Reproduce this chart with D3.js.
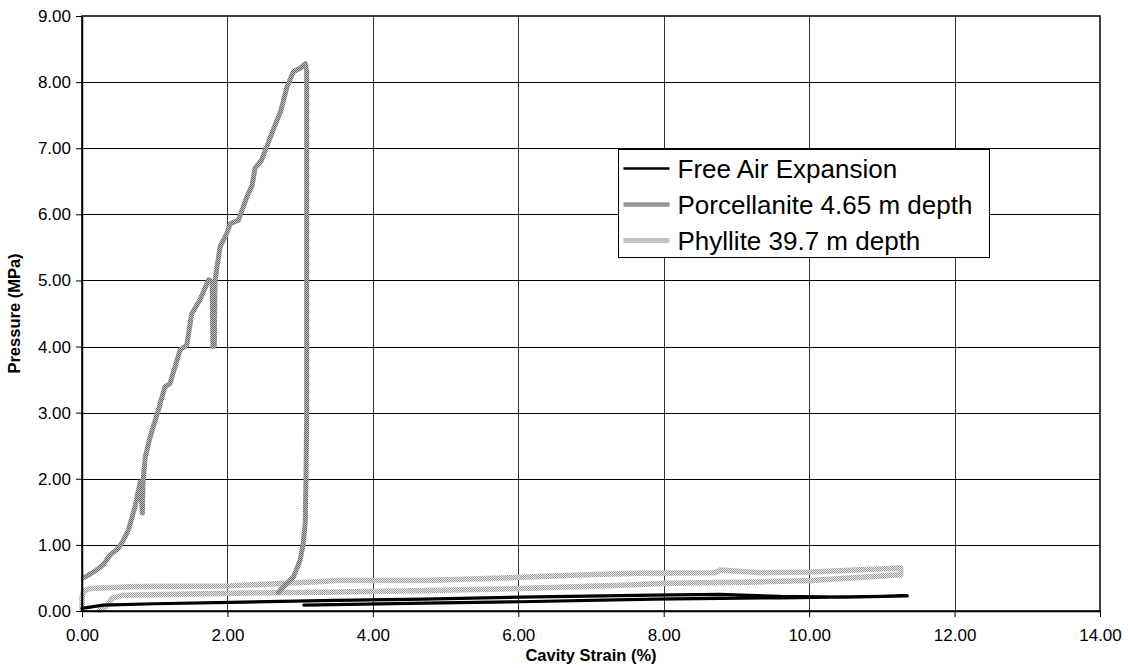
<!DOCTYPE html>
<html>
<head>
<meta charset="utf-8">
<script src="https://cdn.jsdelivr.net/npm/d3@7"></script>
<style>
  body { margin: 0; background: #fff; }
  svg text { font-family: "Liberation Sans", Arial, sans-serif; fill: #000; }
</style>
</head>
<body>
<div id="chart"></div>
<script>
// data: [cavity strain %, pressure MPa]
var freeAir = [[0.00,0.04],[0.29,0.09],[1.00,0.11],[2.04,0.13],[3.50,0.16],[4.70,0.18],[6.03,0.21],[7.86,0.24],
               [8.78,0.25],[9.61,0.22],[10.50,0.21],[11.35,0.23],[11.00,0.22],[9.61,0.20],[7.86,0.18],[6.03,0.14],
               [4.70,0.12],[3.05,0.09]];
var porcellanite = [[0.02,0.50],[0.10,0.55],[0.20,0.62],[0.29,0.70],[0.39,0.85],[0.50,0.95],[0.57,1.07],[0.64,1.23],
                    [0.73,1.58],[0.80,1.95],[0.83,1.48],[0.84,1.95],[0.87,2.33],[0.94,2.64],[1.05,3.04],[1.14,3.39],
                    [1.21,3.44],[1.35,3.95],[1.44,4.02],[1.51,4.50],[1.62,4.70],[1.74,5.01],[1.79,4.98],[1.80,4.00],
                    [1.82,4.00],[1.83,5.00],[1.85,5.16],[1.90,5.51],[1.99,5.71],[2.04,5.86],[2.15,5.91],[2.27,6.27],
                    [2.34,6.44],[2.38,6.70],[2.47,6.82],[2.54,7.02],[2.63,7.28],[2.73,7.55],[2.82,7.93],[2.91,8.16],
                    [3.00,8.21],[3.07,8.28],[3.09,8.15],[3.09,7.00],[3.09,5.00],[3.09,3.00],[3.08,2.00],[3.07,1.33],
                    [3.04,1.00],[3.00,0.77],[2.91,0.52],[2.82,0.42],[2.73,0.32],[2.70,0.28]];
var phyllite = [[0.00,0.02],[0.00,0.20],[0.02,0.30],[0.11,0.34],[0.75,0.37],[2.04,0.38],[2.59,0.41],[3.18,0.44],
                [3.50,0.46],[4.70,0.46],[6.03,0.51],[6.76,0.54],[7.64,0.57],[8.70,0.58],[8.78,0.62],[9.33,0.58],
                [10.02,0.59],[11.26,0.65],[11.26,0.55],[10.02,0.46],[9.33,0.44],[8.03,0.42],[7.41,0.39],[6.03,0.34],
                [4.79,0.31],[3.05,0.28],[2.04,0.27],[0.57,0.24],[0.41,0.19],[0.34,0.07],[0.25,0.01]];

var seriesNames = ["Free Air Expansion", "Porcellanite 4.65 m depth", "Phyllite 39.7 m depth"];
var xTicks = [0, 2, 4, 6, 8, 10, 12, 14];
var yTicks = [0, 1, 2, 3, 4, 5, 6, 7, 8, 9];

var margin = {top: 16, right: 28, bottom: 57, left: 82};
var width = 1128 - margin.left - margin.right;
var height = 668 - margin.top - margin.bottom;

var root = d3.select("#chart").append("svg")
    .attr("width", 1128)
    .attr("height", 668);

// hatched stroke textures like the old excel print
var defs = root.append("defs");
function checker(id, dark, light) {
    var p = defs.append("pattern")
        .attr("id", id)
        .attr("patternUnits", "userSpaceOnUse")
        .attr("width", 2).attr("height", 2);
    p.append("rect").attr("width", 2).attr("height", 2).attr("fill", light);
    p.append("rect").attr("width", 1).attr("height", 1).attr("fill", dark);
    p.append("rect").attr("x", 1).attr("y", 1).attr("width", 1).attr("height", 1).attr("fill", dark);
}
checker("patPorc", "#666", "#c0c0c0");
checker("patPhyl", "#999", "#ececec");

var svg = root.append("g")
    .attr("transform", "translate(" + margin.left + "," + margin.top + ")");

var x = d3.scaleLinear().domain([0, 14]).range([0, width]);
var y = d3.scaleLinear().domain([0, 9]).range([height, 0]);

// grid
svg.append("g").selectAll("line.gx")
    .data(xTicks.slice(1, -1))
    .enter().append("line")
    .attr("x1", function(d){ return Math.round(x(d)) + 0.5; })
    .attr("x2", function(d){ return Math.round(x(d)) + 0.5; })
    .attr("y1", 0).attr("y2", height)
    .attr("stroke", "#333").attr("stroke-width", 1);
svg.append("g").selectAll("line.gy")
    .data(yTicks.slice(1, -1))
    .enter().append("line")
    .attr("x1", 0).attr("x2", width)
    .attr("y1", function(d){ return Math.round(y(d)) + 0.5; })
    .attr("y2", function(d){ return Math.round(y(d)) + 0.5; })
    .attr("stroke", "#000").attr("stroke-width", 1);

var line = d3.line()
    .x(function(d){ return x(d[0]); })
    .y(function(d){ return y(d[1]); });

var series = [
    {name: seriesNames[0], data: freeAir, stroke: "#000", w: 3.2},
    {name: seriesNames[1], data: porcellanite, stroke: "url(#patPorc)", w: 5},
    {name: seriesNames[2], data: phyllite, stroke: "url(#patPhyl)", w: 5.5}
];

// draw phyllite first, then free air, then porcellanite on top
[series[2], series[0], series[1]].forEach(function(s){
    svg.append("path")
        .datum(s.data)
        .attr("d", line)
        .attr("fill", "none")
        .attr("stroke", s.stroke)
        .attr("stroke-width", s.w)
        .attr("stroke-linejoin", "round")
        .attr("stroke-linecap", "round");
});

// plot frame
svg.append("rect")
    .attr("x", 0).attr("y", 0)
    .attr("width", width).attr("height", height)
    .attr("fill", "none").attr("stroke", "#000").attr("stroke-width", 1.5);

// axes
var xAxis = svg.append("g")
    .attr("transform", "translate(0," + height + ")")
    .call(d3.axisBottom(x).tickValues(xTicks).tickFormat(d3.format(".2f")).tickSize(6).tickSizeOuter(0).tickPadding(12));
var yAxis = svg.append("g")
    .call(d3.axisLeft(y).tickValues(yTicks).tickFormat(d3.format(".2f")).tickSize(6).tickSizeOuter(0).tickPadding(5));
[xAxis, yAxis].forEach(function(a){
    a.select(".domain").attr("stroke", "#000").attr("stroke-width", 1.5);
    a.selectAll(".tick line").attr("stroke", "#000");
    a.selectAll(".tick text").attr("font-size", 17).attr("font-family", "Liberation Sans, Arial, sans-serif");
});

svg.append("text")
    .attr("x", width / 2).attr("y", height + 50)
    .attr("text-anchor", "middle")
    .attr("font-size", 16.5).attr("font-weight", "bold")
    .text("Cavity Strain (%)");
svg.append("text")
    .attr("transform", "translate(" + (-62) + "," + (height / 2) + ") rotate(-90)")
    .attr("text-anchor", "middle")
    .attr("font-size", 16.5).attr("font-weight", "bold")
    .text("Pressure (MPa)");

// legend
var lg = root.append("g").attr("transform", "translate(618.5,149.5)");
lg.append("rect")
    .attr("width", 371).attr("height", 108)
    .attr("fill", "#fff").attr("stroke", "#000").attr("stroke-width", 1);
var entry = lg.selectAll("g.legendEntry")
    .data(series)
    .enter().append("g").attr("class", "legendEntry")
    .attr("transform", function(d, i){ return "translate(0," + (19 + i * 36) + ")"; });
entry.append("line")
    .attr("x1", 5).attr("x2", 51)
    .attr("stroke", function(d){ return d.stroke; })
    .attr("stroke-width", function(d){ return d.w - 0.5; });
entry.append("text")
    .attr("x", 59).attr("y", 0)
    .attr("dy", "0.35em")
    .attr("font-size", 26)
    .text(function(d){ return d.name; });
</script>
</body>
</html>
